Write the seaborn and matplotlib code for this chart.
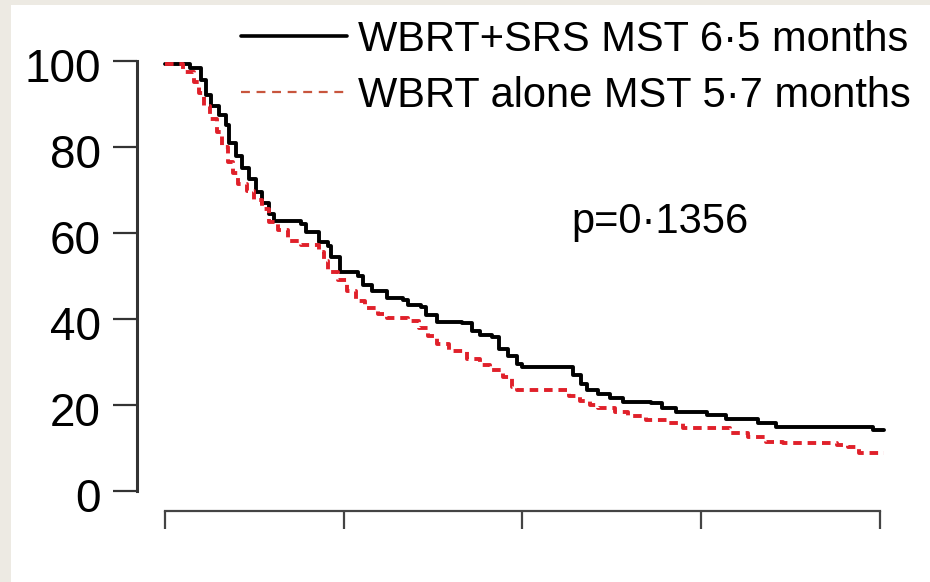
import numpy as np
import pandas as pd
import matplotlib
matplotlib.use("Agg")
import matplotlib.pyplot as plt
import matplotlib.transforms as mtransforms
import seaborn as sns

# Kaplan-Meier style step curves (time, % surviving)
srs_label = "WBRT+SRS MST 6·5 months"
srs_time = [0, 0.7, 1.0, 1.15, 1.3, 1.5, 1.7, 1.8, 2.0, 2.15, 2.35, 2.55, 2.7, 2.9, 3.05,
            3.8, 3.95, 4.3, 4.55, 4.65, 4.9, 5.4, 5.55, 5.8, 6.2, 6.65, 6.8, 7.15, 7.3,
            7.6, 8.3, 8.6, 8.8, 9.15, 9.35, 9.6, 9.85, 10.0, 11.4, 11.65, 11.8, 12.1,
            12.45, 12.8, 13.6, 13.9, 14.3, 15.15, 15.7, 16.6, 17.1, 19.7, 19.8, 20.1]
srs_surv = [99.3, 98.4, 95.5, 92, 89.5, 87.5, 85, 81, 78, 75, 72.5, 69.5, 67, 64.5, 62.7,
            62, 60.3, 58, 57, 54.5, 51, 50, 48, 46.6, 45, 44.5, 43.2, 42.7, 41,
            39.3, 39, 37.2, 36.2, 35.7, 33, 31.5, 29.5, 28.8, 27, 25, 23.5, 22.5,
            21.6, 20.8, 20.4, 19.3, 18.4, 17.7, 16.7, 15.8, 14.9, 14.9, 14.2, 14.2]

wbrt_label = "WBRT alone MST 5·7 months"
wbrt_time = [0, 0.5, 0.8, 0.95, 1.1, 1.25, 1.45, 1.6, 1.75, 1.9, 2.05, 2.3, 2.5, 2.7, 2.9,
             3.15, 3.45, 3.8, 4.3, 4.45, 4.55, 4.85, 5.1, 5.35, 5.6, 5.95, 6.2, 6.8, 7.1,
             7.35, 7.6, 7.95, 8.45, 8.8, 9.1, 9.45, 9.7, 9.85, 11.3, 11.6, 11.9, 12.1,
             12.6, 12.95, 13.45, 14.1, 14.5, 15.8, 16.3, 16.8, 17.3, 18.8, 19.1, 19.4, 20.1]
wbrt_surv = [99.3, 97.5, 95, 92.5, 89.5, 86.5, 83.5, 80, 76.5, 74, 71.5, 69.8, 67.6, 65.5, 62.5,
             60.8, 58.2, 57.3, 55.6, 53.5, 51, 49, 46.5, 44.3, 42.5, 41.1, 40.2, 39.6, 38,
             36, 34.3, 32.5, 30.8, 29.4, 28.2, 26.4, 24.3, 23.4, 22.2, 21, 20, 19.3,
             18.3, 17.4, 16.6, 15.9, 14.7, 13.5, 12.6, 11.5, 11.1, 10.7, 10.2, 8.8, 8.8]

x_ticks = [0, 5, 10, 15, 20]
y_ticks = [0, 20, 40, 60, 80, 100]
p_text = "p=0·1356"

df = pd.concat([
    pd.DataFrame({"time": srs_time, "surv": srs_surv, "group": srs_label}),
    pd.DataFrame({"time": wbrt_time, "surv": wbrt_surv, "group": wbrt_label}),
], ignore_index=True)

sns.set_theme(style="white")
plt.rcParams["font.family"] = ["Liberation Sans", "DejaVu Sans"]
plt.rcParams["text.color"] = "black"

fig = plt.figure(figsize=(9.3, 5.82), dpi=100, facecolor="white")
# beige strips on the left and top edge
fig.patches.append(plt.Rectangle((0, 0), 11 / 930, 1, transform=fig.transFigure,
                                 facecolor="#edeae3", edgecolor="none", zorder=-5))
fig.patches.append(plt.Rectangle((0, 1 - 5 / 582), 1, 5 / 582, transform=fig.transFigure,
                                 facecolor="#edeae3", edgecolor="none", zorder=-5))
ax = fig.add_axes([137 / 930, 0.112, 753 / 930, 0.7906])
ax.set_facecolor("none")

red = "#e0202a"
sns.lineplot(data=df, x="time", y="surv", hue="group", style="group",
             palette={srs_label: "black", wbrt_label: red},
             dashes={srs_label: "", wbrt_label: (2.2, 1.5)},
             linewidth=2.8, drawstyle="steps-post", estimator=None, sort=False,
             ax=ax)

ax.set_xlim(-0.783, 20.28)
ax.set_ylim(-6, 101)
ax.set_xticks(x_ticks)
ax.set_xticklabels([])
ax.set_yticks(y_ticks)
ax.set_xlabel("")
ax.set_ylabel("")

for s in ["top", "right"]:
    ax.spines[s].set_visible(False)
ax.spines["left"].set_bounds(0, 100)
ax.spines["left"].set_linewidth(2.2)
ax.spines["left"].set_color("#333333")
ax.spines["bottom"].set_bounds(0, 20)
ax.spines["bottom"].set_position(("data", -4.7))
ax.spines["bottom"].set_linewidth(1.6)
ax.spines["bottom"].set_color("#444444")

ax.tick_params(axis="y", direction="out", length=17, width=1.6, pad=9,
               labelsize=33, colors="#333333", labelcolor="black", left=True)
ax.tick_params(axis="x", direction="out", length=13, width=1.6, bottom=True,
               colors="#444444")

# y labels sit a little below their ticks in the original
shift = mtransforms.ScaledTranslation(0, -4 / 100, fig.dpi_scale_trans)
for lbl in ax.get_yticklabels():
    lbl.set_transform(lbl.get_transform() + shift)

ax.text(13.85, 62.5, p_text, ha="center", va="center", fontsize=30)

leg = ax.legend(loc="upper left", bbox_to_anchor=(241 / 930, 1 - 20 / 582),
                bbox_transform=fig.transFigure, frameon=False, fontsize=30,
                handlelength=2.55, handletextpad=0.25, labelspacing=0.38,
                borderpad=0, borderaxespad=0, title=None)
for t in leg.get_texts():
    t.set_color("black")
leg.get_lines()[0].set_linewidth(2.6)
leg.get_lines()[1].set_color("#c8553d")
leg.get_lines()[1].set_linewidth(1.6)
leg.get_lines()[1].set_dashes([4, 3])

fig.savefig("out.png", dpi=100, facecolor=fig.get_facecolor())
